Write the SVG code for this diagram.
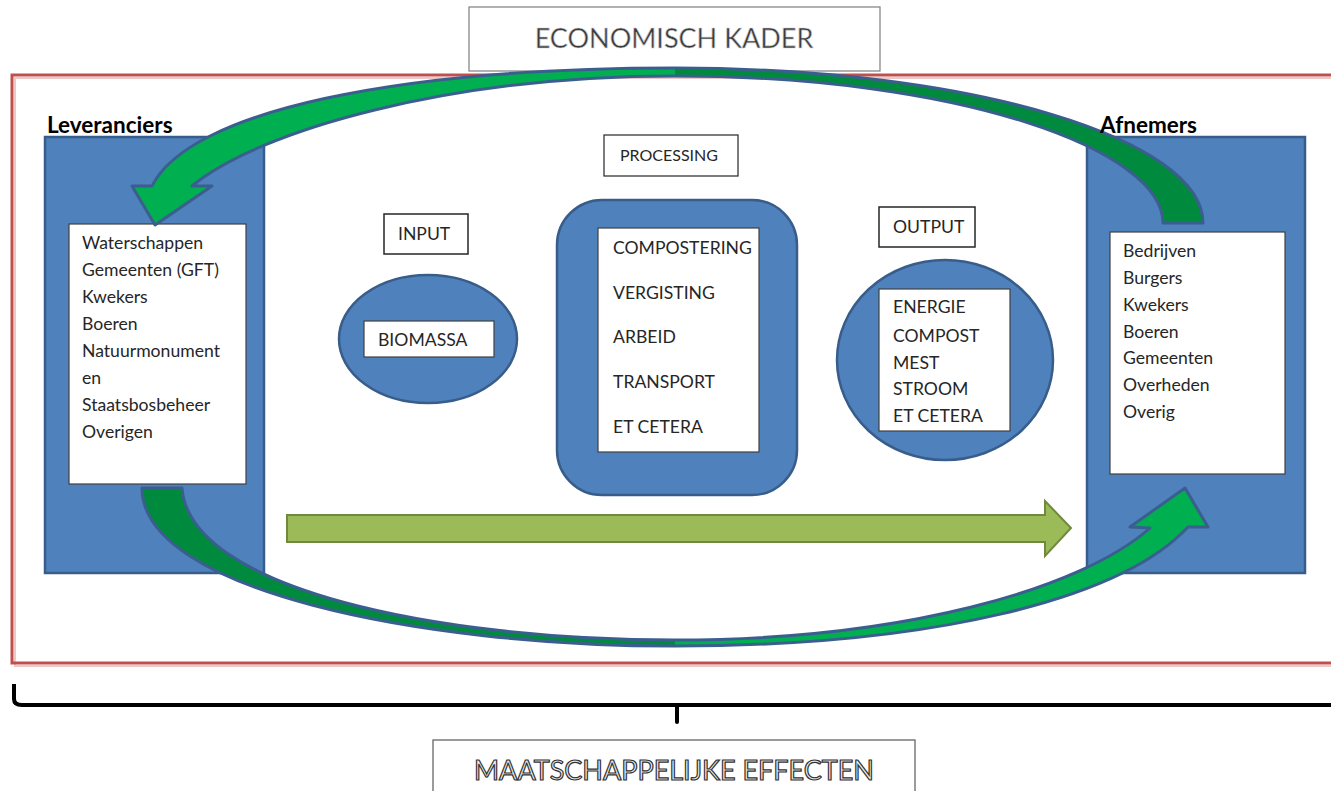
<svg xmlns="http://www.w3.org/2000/svg" width="1331" height="791" viewBox="0 0 1331 791">
<defs>
<style>
.bg{fill:#ffffff}
.blue{fill:#4f81bd;stroke:#385d8a;stroke-width:2.5}
.wbox{fill:#ffffff;stroke:#404040;stroke-width:1.2}
.hbox{fill:#ffffff;stroke:#262626;stroke-width:1.5}
.txt{font-family:Lato,"Liberation Sans",sans-serif;font-size:17.6px;fill:#262626}
.lbl{font-family:Lato,"Liberation Sans",sans-serif;font-size:22.5px;font-weight:bold;fill:#000000}
.band{stroke:#3a5f8f;stroke-width:3;stroke-linejoin:round}
</style>
<linearGradient id="gTop" gradientUnits="userSpaceOnUse" x1="0" y1="0" x2="1331" y2="0">
<stop offset="0" stop-color="#00b050"/><stop offset="0.507" stop-color="#00b050"/>
<stop offset="0.507" stop-color="#008a3e"/><stop offset="1" stop-color="#008a3e"/>
</linearGradient>
<linearGradient id="gBot" gradientUnits="userSpaceOnUse" x1="0" y1="0" x2="1331" y2="0">
<stop offset="0" stop-color="#008a3e"/><stop offset="0.507" stop-color="#008a3e"/>
<stop offset="0.507" stop-color="#00b050"/><stop offset="1" stop-color="#00b050"/>
</linearGradient>
</defs>
<rect class="bg" x="0" y="0" width="1331" height="791"/>

<g id="frame">
<path d="M1331 78 H15 V666 H1331" fill="none" stroke="#ecc8c7" stroke-width="2"/>
<path d="M1331 75 H12 V663 H1331" fill="none" stroke="#c0504d" stroke-width="3"/>
<path d="M14 684 V699 Q14 705 22 705 H1331" fill="none" stroke="#000" stroke-width="4"/>
<path d="M677 705 V722" fill="none" stroke="#000" stroke-width="4" stroke-linecap="round"/>
</g>

<g id="economisch-kader">
<rect class="wbox" x="469" y="7" width="411" height="64" style="stroke:#7f7f7f"/>
<text x="674" y="48" text-anchor="middle" font-family="Lato,'Liberation Sans',sans-serif" font-size="27" fill="#3a3a3a" stroke="#d0d0d0" stroke-width="0.6">ECONOMISCH KADER</text>
</g>

<g id="leveranciers">
<rect class="blue" x="45" y="137" width="219" height="436"/>
<rect class="wbox" x="69" y="224" width="177" height="260"/>
<text class="txt" x="82" y="249">Waterschappen</text>
<text class="txt" x="82" y="276">Gemeenten (GFT)</text>
<text class="txt" x="82" y="303">Kwekers</text>
<text class="txt" x="82" y="330">Boeren</text>
<text class="txt" x="82" y="357">Natuurmonument</text>
<text class="txt" x="82" y="384">en</text>
<text class="txt" x="82" y="411">Staatsbosbeheer</text>
<text class="txt" x="82" y="438">Overigen</text>
</g>

<g id="afnemers">
<rect class="blue" x="1087" y="137" width="218" height="436"/>
<rect class="wbox" x="1110" y="232" width="175" height="242"/>
<text class="txt" x="1123" y="257">Bedrijven</text>
<text class="txt" x="1123" y="284">Burgers</text>
<text class="txt" x="1123" y="311">Kwekers</text>
<text class="txt" x="1123" y="338">Boeren</text>
<text class="txt" x="1123" y="364">Gemeenten</text>
<text class="txt" x="1123" y="391">Overheden</text>
<text class="txt" x="1123" y="418">Overig</text>
</g>

<g id="input">
<rect class="hbox" x="384" y="214" width="84" height="40"/>
<text class="txt" x="398" y="240">INPUT</text>
</g>

<g id="biomassa">
<ellipse class="blue" cx="428" cy="339" rx="89" ry="64"/>
<rect class="wbox" x="364" y="321" width="130" height="36"/>
<text class="txt" x="378" y="346">BIOMASSA</text>
</g>

<g id="processing-label">
<rect class="hbox" x="604" y="135" width="134" height="41" style="stroke-width:1.2"/>
<text class="txt" x="669" y="161" text-anchor="middle" style="font-size:16px">PROCESSING</text>
</g>

<g id="processing">
<rect class="blue" x="557" y="200" width="240" height="295" rx="45" ry="45"/>
<rect class="wbox" x="598" y="228" width="161" height="224"/>
<text class="txt" x="613" y="254">COMPOSTERING</text>
<text class="txt" x="613" y="299">VERGISTING</text>
<text class="txt" x="613" y="343">ARBEID</text>
<text class="txt" x="613" y="388">TRANSPORT</text>
<text class="txt" x="613" y="433">ET CETERA</text>
</g>

<g id="output">
<rect class="hbox" x="879" y="207" width="96" height="40"/>
<text class="txt" x="893" y="233">OUTPUT</text>
</g>

<g id="output-products">
<ellipse class="blue" cx="945" cy="360" rx="108" ry="100"/>
<rect class="wbox" x="879" y="289" width="131" height="142"/>
<text class="txt" x="893" y="313">ENERGIE</text>
<text class="txt" x="893" y="342">COMPOST</text>
<text class="txt" x="893" y="369">MEST</text>
<text class="txt" x="893" y="395">STROOM</text>
<text class="txt" x="893" y="422">ET CETERA</text>
</g>

<g id="connectors">
<path class="band" fill="url(#gTop)" d="M152 186 C190 110 400 68 675 68 C975 68 1203 140 1203 223 L1163 223 C1163 150 960 76 675 76 C450 76 260 130 192 186 L212 186 L155 225 L132 186 Z"/>
<path class="band" fill="url(#gBot)" d="M142 488 C142 590 420 646 675 646 C930 646 1120 600 1188 527 L1208 527 L1185 488 L1130 527 L1150 528 C1080 590 900 640 675 640 C440 640 190 590 182 488 Z"/>
<path d="M287 515 H1045 V501 L1071 528 L1045 556 V542 H287 Z" fill="#9bbb59" stroke="#71893f" stroke-width="2"/>
</g>

<g id="labels">
<text class="lbl" x="47" y="133">Leveranciers</text>
<text class="lbl" x="1100" y="133">Afnemers</text>
</g>

<g id="maatschappelijke-effecten">
<rect class="wbox" x="433" y="740" width="482" height="60" style="stroke:#595959"/>
<text x="674" y="780" text-anchor="middle" font-family="Lato,'Liberation Sans',sans-serif" font-size="27" fill="#eeeeee" stroke="#333333" stroke-width="1.2">MAATSCHAPPELIJKE EFFECTEN</text>
</g>
</svg>
